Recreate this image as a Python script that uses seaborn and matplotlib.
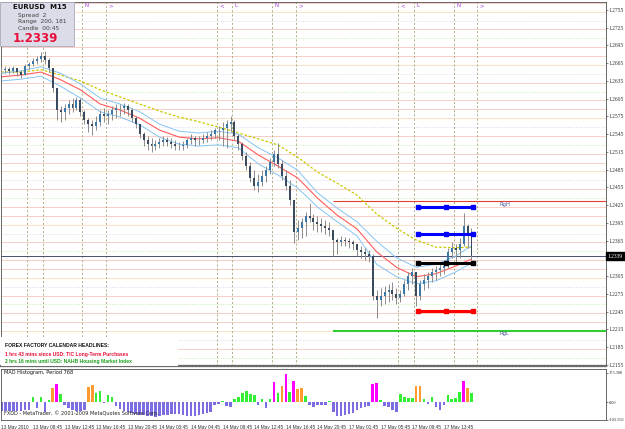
import numpy as np
import matplotlib
matplotlib.use('Agg')
import matplotlib.pyplot as plt
import matplotlib.transforms as mtrans
from matplotlib.patches import Rectangle
import seaborn as sns

# EURUSD M15, one candle every 2 bars (high / low / close)
hi = [1.2659, 1.2660, 1.2659, 1.2660, 1.2657, 1.2653, 1.2664, 1.2667, 1.2674, 1.2677,
      1.2684, 1.2686, 1.2674, 1.2657, 1.2599, 1.2593, 1.2596, 1.2603, 1.2606, 1.2608,
      1.2606, 1.2586, 1.2572, 1.2569, 1.2576, 1.2586, 1.2589, 1.2586, 1.2593, 1.2596,
      1.2596, 1.2598, 1.2596, 1.2589, 1.2576, 1.2562, 1.2549, 1.2542, 1.2539, 1.2535,
      1.2539, 1.2542, 1.2540, 1.2539, 1.2535, 1.2532, 1.2533, 1.2539, 1.2545, 1.2542,
      1.2542, 1.2545, 1.2549, 1.2552, 1.2555, 1.2559, 1.2566, 1.2569, 1.2576, 1.2569,
      1.2545, 1.2532, 1.2515, 1.2498, 1.2484, 1.2478, 1.2484, 1.2491, 1.2505, 1.2518,
      1.2530, 1.2501, 1.2484, 1.2468, 1.2425, 1.2400, 1.2403, 1.2413, 1.2429, 1.2410,
      1.2407, 1.2403, 1.2400, 1.2397, 1.2373, 1.2369, 1.2373, 1.2371, 1.2369, 1.2366,
      1.2359, 1.2356, 1.2353, 1.2349, 1.2342, 1.2282, 1.2285, 1.2288, 1.2292, 1.2295,
      1.2285, 1.2282, 1.2298, 1.2312, 1.2319, 1.2305, 1.2298, 1.2309, 1.2312, 1.2319,
      1.2322, 1.2325, 1.2329, 1.2353, 1.2363, 1.2359, 1.2369, 1.2412, 1.2393, 1.2386]
lo = [1.2647, 1.2648, 1.2647, 1.2648, 1.2643, 1.2640, 1.2647, 1.2655, 1.2660, 1.2664,
      1.2667, 1.2664, 1.2650, 1.2616, 1.2569, 1.2566, 1.2569, 1.2579, 1.2583, 1.2586,
      1.2576, 1.2562, 1.2549, 1.2544, 1.2552, 1.2559, 1.2566, 1.2562, 1.2569, 1.2572,
      1.2576, 1.2579, 1.2576, 1.2566, 1.2555, 1.2539, 1.2525, 1.2518, 1.2515, 1.2518,
      1.2522, 1.2525, 1.2525, 1.2522, 1.2518, 1.2518, 1.2518, 1.2522, 1.2528, 1.2525,
      1.2527, 1.2530, 1.2532, 1.2535, 1.2539, 1.2535, 1.2525, 1.2522, 1.2549, 1.2535,
      1.2518, 1.2501, 1.2484, 1.2464, 1.2451, 1.2447, 1.2457, 1.2464, 1.2478, 1.2491,
      1.2488, 1.2468, 1.2451, 1.2425, 1.2361, 1.2366, 1.2369, 1.2373, 1.2397, 1.2383,
      1.2380, 1.2380, 1.2376, 1.2373, 1.2339, 1.2342, 1.2356, 1.2356, 1.2353, 1.2349,
      1.2339, 1.2336, 1.2332, 1.2329, 1.2265, 1.2234, 1.2254, 1.2258, 1.2261, 1.2265,
      1.2258, 1.2261, 1.2271, 1.2282, 1.2292, 1.2254, 1.2265, 1.2282, 1.2285, 1.2295,
      1.2298, 1.2305, 1.2309, 1.2319, 1.2336, 1.2329, 1.2336, 1.2356, 1.2353, 1.2332]
cl = [1.2653, 1.2655, 1.2652, 1.2657, 1.2650, 1.2645, 1.2660, 1.2664, 1.2669, 1.2672,
      1.2677, 1.2671, 1.2657, 1.2623, 1.2586, 1.2583, 1.2589, 1.2596, 1.2589, 1.2603,
      1.2583, 1.2569, 1.2562, 1.2559, 1.2566, 1.2579, 1.2576, 1.2579, 1.2586, 1.2589,
      1.2589, 1.2593, 1.2586, 1.2572, 1.2562, 1.2545, 1.2535, 1.2528, 1.2525, 1.2528,
      1.2532, 1.2535, 1.2532, 1.2528, 1.2525, 1.2525, 1.2527, 1.2535, 1.2539, 1.2535,
      1.2535, 1.2539, 1.2542, 1.2545, 1.2552, 1.2552, 1.2555, 1.2562, 1.2566, 1.2542,
      1.2528, 1.2508, 1.2491, 1.2471, 1.2457, 1.2464, 1.2474, 1.2484, 1.2498, 1.2512,
      1.2495, 1.2474, 1.2457, 1.2434, 1.2380, 1.2386, 1.2397, 1.2407, 1.2403, 1.2397,
      1.2393, 1.2390, 1.2386, 1.2383, 1.2366, 1.2363, 1.2366, 1.2364, 1.2363, 1.2359,
      1.2349, 1.2346, 1.2342, 1.2339, 1.2271, 1.2265, 1.2271, 1.2278, 1.2282, 1.2275,
      1.2268, 1.2275, 1.2292, 1.2305, 1.2312, 1.2271, 1.2292, 1.2298, 1.2305, 1.2312,
      1.2315, 1.2319, 1.2322, 1.2346, 1.2353, 1.2349, 1.2359, 1.2390, 1.2373, 1.2339]

# moving averages, read every 10 bars
ma_bar = [0, 10, 20, 30, 40, 50, 60, 70, 80, 90, 100, 110, 120,
          130, 140, 150, 160, 170, 180, 190, 200, 210, 220, 230, 238]
ma_red = [1.2642, 1.2645, 1.2650, 1.2637, 1.2620, 1.2596, 1.2586, 1.2572, 1.2552, 1.2540,
          1.2537, 1.2539, 1.2533, 1.2510, 1.2491, 1.2471, 1.2437, 1.2408, 1.2385, 1.2346,
          1.2320, 1.2304, 1.2309, 1.2322, 1.2334]
band_up = [1.2648, 1.2652, 1.2659, 1.2648, 1.2630, 1.2606, 1.2596, 1.2583, 1.2562, 1.2550,
           1.2547, 1.2550, 1.2545, 1.2522, 1.2505, 1.2484, 1.2446, 1.2420, 1.2397, 1.2364,
           1.2336, 1.2320, 1.2325, 1.2339, 1.2356]
band_dn = [1.2635, 1.2638, 1.2643, 1.2626, 1.2606, 1.2583, 1.2574, 1.2561, 1.2540, 1.2528,
           1.2525, 1.2527, 1.2522, 1.2495, 1.2476, 1.2454, 1.2422, 1.2397, 1.2373, 1.2325,
           1.2304, 1.2292, 1.2297, 1.2312, 1.2327]
ma_slow = [1.2650, 1.2650, 1.2654, 1.2645, 1.2635, 1.2620, 1.2608, 1.2596, 1.2584, 1.2574,
           1.2566, 1.2557, 1.2547, 1.2537, 1.2527, 1.2506, 1.2481, 1.2462, 1.2442, 1.2410,
           1.2386, 1.2366, 1.2354, 1.2353, 1.2354]

# MAO histogram, one value every 2 bars; kind: b=neg g=up o=orange m=magenta
hist_val = [-50, -52, -55, -55, -52, -50, -48, -45, 28, -38,
            32, -56, 9, 81, 107, 45, -20, -38, -45, -50,
            -52, -47, 88, 98, 50, 62, -8, 40, 30, -25,
            -40, -50, -58, -65, -70, -74, -78, -82, -85, -86,
            -80, -78, -75, -72, -70, -72, -76, -80, -82, -80,
            -76, -70, -64, -56, -20, -12, 8, -25, -28, 20,
            28, 50, 66, 47, 40, -19, 19, -38, 19, 120,
            55, 92, 165, 60, 125, 78, 85, 35, -20, -28,
            -19, -15, -20, 8, -60, -80, -85, -78, -72, -65,
            -45, -38, -28, -25, 105, 110, 10, -22, -32, -45,
            -56, 45, 28, 22, 25, 92, 95, 19, -10, 32,
            -30, -47, -20, 43, 19, 22, 56, 125, 80, 55]
hist_kind = ("bbbbbbbbgb" "gbgomgbbbb" "bbooggbggb" "bbbbbbbbbb" "bbbbbbbbbb"
             "bbbbbbgbbg" "gggggbgbgm" "gomgmoogbb" "bbbgbbbbbb" "bbbbmmgbbb"
             "bggggoogbg" "bbbggggmog")

# 1.2335 sits under the current-price box, so it is not listed
price_ticks = [1.2755, 1.2725, 1.2695, 1.2665, 1.2635, 1.2605, 1.2575, 1.2545, 1.2515,
               1.2485, 1.2455, 1.2425, 1.2395, 1.2365, 1.2305, 1.2275, 1.2245,
               1.2215, 1.2185, 1.2155]
time_ticks = [0, 16, 32, 48, 64, 80, 96, 112, 128, 144, 160, 176, 192, 208, 224]
time_labels = ["13 May 2010", "13 May 08:45", "13 May 12:45", "13 May 16:45", "13 May 20:45",
               "14 May 00:45", "14 May 04:45", "14 May 08:45", "14 May 12:45", "14 May 16:45",
               "14 May 20:45", "17 May 01:45", "17 May 05:45", "17 May 09:45", "17 May 13:45"]

sess_bar = [13, 21, 41, 53, 109, 117, 137, 149, 201, 209, 229, 241]
sess_mark = ['<', 'L', 'N', '>'] * 3

pivot_lv = [1.2422, 1.2376, 1.2327, 1.2246]
pivot_col = ['#0000ff', '#0000ff', '#000000', '#ff0000']
pivot_bar = [211, 225, 239]

rg_high = 1.2432
rg_low = 1.2213
rg_start = 168
bid = 1.2339

W, H = 625, 429


def fx(px):
    return px / W


def fy(py):
    return 1 - py / H


def draw_price(ax, fig):
    tr = mtrans.blended_transform_factory(ax.transData, ax.transAxes)

    # pastel level lines
    lvl_cols = ['#f7cfc8', '#c6efb2', '#f7cfc8', '#d9d9f5', '#fbe1c4', '#f7cfc8']
    lvl_ls = ['-', ':', '-', ':', '-', '-']
    for k, lv in enumerate(np.arange(1.2152, 1.2770, 0.0015)):
        ax.axhline(lv, color=lvl_cols[k % 6], lw=0.7, ls=lvl_ls[k % 6], zorder=0.5)

    for b, m in zip(sess_bar, sess_mark):
        ax.axvline(b, color='#a4a478', lw=0.6, ls=(0, (2.5, 2.5)), zorder=1)
        if b > 37:  # markers further left are hidden by the info box
            ax.text(b + 1.2, 0.997, m, transform=tr, ha='left', va='top',
                    fontsize=4, color='#a040e0', zorder=6)

    ax.axhline(bid, color='#4c4c6c', lw=0.7, zorder=2)
    ax.hlines(rg_high, rg_start, 320, color='#e04030', lw=0.8, zorder=2)
    ax.hlines(rg_low, rg_start, 320, color='#33cc33', lw=1.5, zorder=2)
    ax.text(252, rg_high - 0.0001, 'RgH', fontsize=3.8, color='#4a5a9a', va='top', zorder=6)
    ax.text(252, rg_low - 0.0001, 'RgL', fontsize=3.8, color='#4a5a9a', va='top', zorder=6)

    sns.lineplot(x=ma_bar, y=ma_slow, ax=ax, color='#c8c800', lw=0.9,
                 linestyle=(0, (2, 1.5)), errorbar=None, zorder=2)
    sns.lineplot(x=ma_bar, y=band_up, ax=ax, color='#86c4f4', lw=0.7, errorbar=None, zorder=2)
    sns.lineplot(x=ma_bar, y=band_dn, ax=ax, color='#86c4f4', lw=0.7, errorbar=None, zorder=2)
    sns.lineplot(x=ma_bar, y=ma_red, ax=ax, color='#ff5c5c', lw=0.8, errorbar=None, zorder=2)

    # candles
    h, l, c = np.array(hi), np.array(lo), np.array(cl)
    o = np.r_[c[0], c[:-1]]
    xb = np.arange(len(c)) * 2
    top = np.maximum.reduce([h, o, c])
    bot = np.minimum.reduce([l, o, c])
    ax.vlines(xb, bot, top, color='#8c8c8c', lw=0.7, zorder=3)
    body_col = np.where(c >= o, '#3a78a8', '#3b4a5c')
    ax.bar(xb, np.maximum(np.abs(c - o), 0.00008), bottom=np.minimum(o, c),
           width=1.0, color=body_col, lw=0, zorder=4)

    for lv, col in zip(pivot_lv, pivot_col):
        ax.plot([pivot_bar[0], pivot_bar[-1]], [lv, lv], color=col, lw=2.2, zorder=5)
        ax.plot(pivot_bar, [lv] * len(pivot_bar), ls='none', marker='s', ms=3.2,
                color=col, zorder=5)

    ax.set_xlim(-0.2, 306.1)
    ax.set_ylim(1.2153, 1.27685)
    ax.set_xticks([])
    ax.yaxis.tick_right()
    ax.set_yticks(price_ticks)
    ax.set_yticklabels(['%.4f' % p for p in price_ticks], fontsize=4.0,
                       fontfamily='Liberation Serif', color='#303030')
    ax.tick_params(axis='y', length=1.5, pad=0.6, width=0.5, color='#505050')
    ax.set_ylabel('')
    for s in ['left', 'top', 'right']:
        ax.spines[s].set_color('#505050')
        ax.spines[s].set_linewidth(0.6)
    ax.spines['bottom'].set_color('#6a6a6a')
    ax.spines['bottom'].set_linewidth(1.6)
    ax.spines['bottom'].set_linestyle((0, (1, 0.6)))

    trp = mtrans.blended_transform_factory(ax.transAxes, ax.transData)
    ax.text(1.003, bid, '%.4f' % bid, transform=trp, ha='left', va='center',
            fontsize=4.0, fontfamily='Liberation Serif', color='white', zorder=12,
            clip_on=False, bbox=dict(boxstyle='square,pad=0.3', fc='black', ec='black'))

    # news headlines box
    ax.add_patch(Rectangle((0, 0), 177 / 605, 29 / 364, transform=ax.transAxes,
                           fc='white', ec='none', zorder=8))
    ax.text(0.007, 0.056, 'FOREX FACTORY CALENDAR HEADLINES:', transform=ax.transAxes,
            fontsize=3.6, fontweight='bold', color='#111111', va='center', zorder=9,
            fontfamily='Liberation Sans')
    ax.text(0.007, 0.031, '1 hrs 43 mins since USD: TIC Long-Term Purchases',
            transform=ax.transAxes, fontsize=3.6, fontweight='bold', color='#e8103a',
            va='center', zorder=9, fontfamily='Liberation Sans')
    ax.text(0.007, 0.012, '2 hrs 16 mins until USD: NAHB Housing Market Index',
            transform=ax.transAxes, fontsize=3.6, fontweight='bold', color='#1e9e1e',
            va='center', zorder=9, fontfamily='Liberation Sans')

    # info box
    ax.add_patch(Rectangle((0, fy(46)), fx(74), 44 / H, transform=fig.transFigure,
                           fc='#dcdce8', ec='#a8a8b8', lw=0.6, zorder=10, clip_on=False))
    ax.text(fx(13), fy(7), 'EURUSD  M15', transform=fig.transFigure, fontsize=5,
            fontweight='bold', color='#111111', va='center', zorder=11)
    for yy, t in [(15, 'Spread  2'), (22, 'Range  200, 181'), (29, 'Candle  00:45')]:
        ax.text(fx(18), fy(yy), t, transform=fig.transFigure, fontsize=4.2,
                color='#404040', va='center', zorder=11)
    ax.text(fx(13), fy(39), '%.4f' % bid, transform=fig.transFigure, fontsize=8.5,
            fontweight='bold', color='#e8103a', va='center', zorder=11)


def draw_histogram(ax):
    kind_col = {'b': '#7a6ee2', 'g': '#33ee33', 'o': '#ff9a30', 'm': '#ff00ff'}
    xb = np.arange(len(hist_val)) * 2
    ax.bar(xb, hist_val, width=1.3, color=[kind_col[k] for k in hist_kind], lw=0)

    ax.set_xlim(-0.2, 306.1)
    ax.set_ylim(-105.75, 193.9)
    ax.yaxis.tick_right()
    ax.set_yticks([173.308, 0, -103.592])
    ax.set_yticklabels(['173.308', '0.00', '-103.592'], fontsize=3.2,
                       fontfamily='Liberation Serif', color='#303030')
    ax.tick_params(axis='y', length=1.5, pad=0.5, width=0.5, color='#505050')
    ax.set_xticks(time_ticks)
    ax.set_xticklabels(time_labels, ha='left', fontsize=3.4,
                       fontfamily='Liberation Sans', color='#303030')
    ax.tick_params(axis='x', length=2.5, pad=0.8, width=0.5, color='#505050')
    for s in ['left', 'top', 'right', 'bottom']:
        ax.spines[s].set_color('#505050')
        ax.spines[s].set_linewidth(0.6)

    ax.text(0.005, 0.94, 'MAO Histogram, Period 768', transform=ax.transAxes,
            fontsize=3.6, color='#111111', va='center')
    ax.text(0.005, 0.14, 'FXDD - MetaTrader, \u00a9 2001-2009 MetaQuotes Software Corp.',
            transform=ax.transAxes, fontsize=3.6, color='#222222', va='center')


def main():
    sns.set_style('white')
    plt.rcParams['font.family'] = ['DejaVu Sans']

    fig = plt.figure(figsize=(W / 100, H / 100), dpi=100)
    ax = fig.add_axes([fx(1), fy(366), 605 / W, 364 / H])
    ax_h = fig.add_axes([fx(1), fy(420), 605 / W, 51 / H])

    draw_price(ax, fig)
    draw_histogram(ax_h)

    fig.savefig('out.png', dpi=100)
    plt.close(fig)


if __name__ == '__main__':
    main()
